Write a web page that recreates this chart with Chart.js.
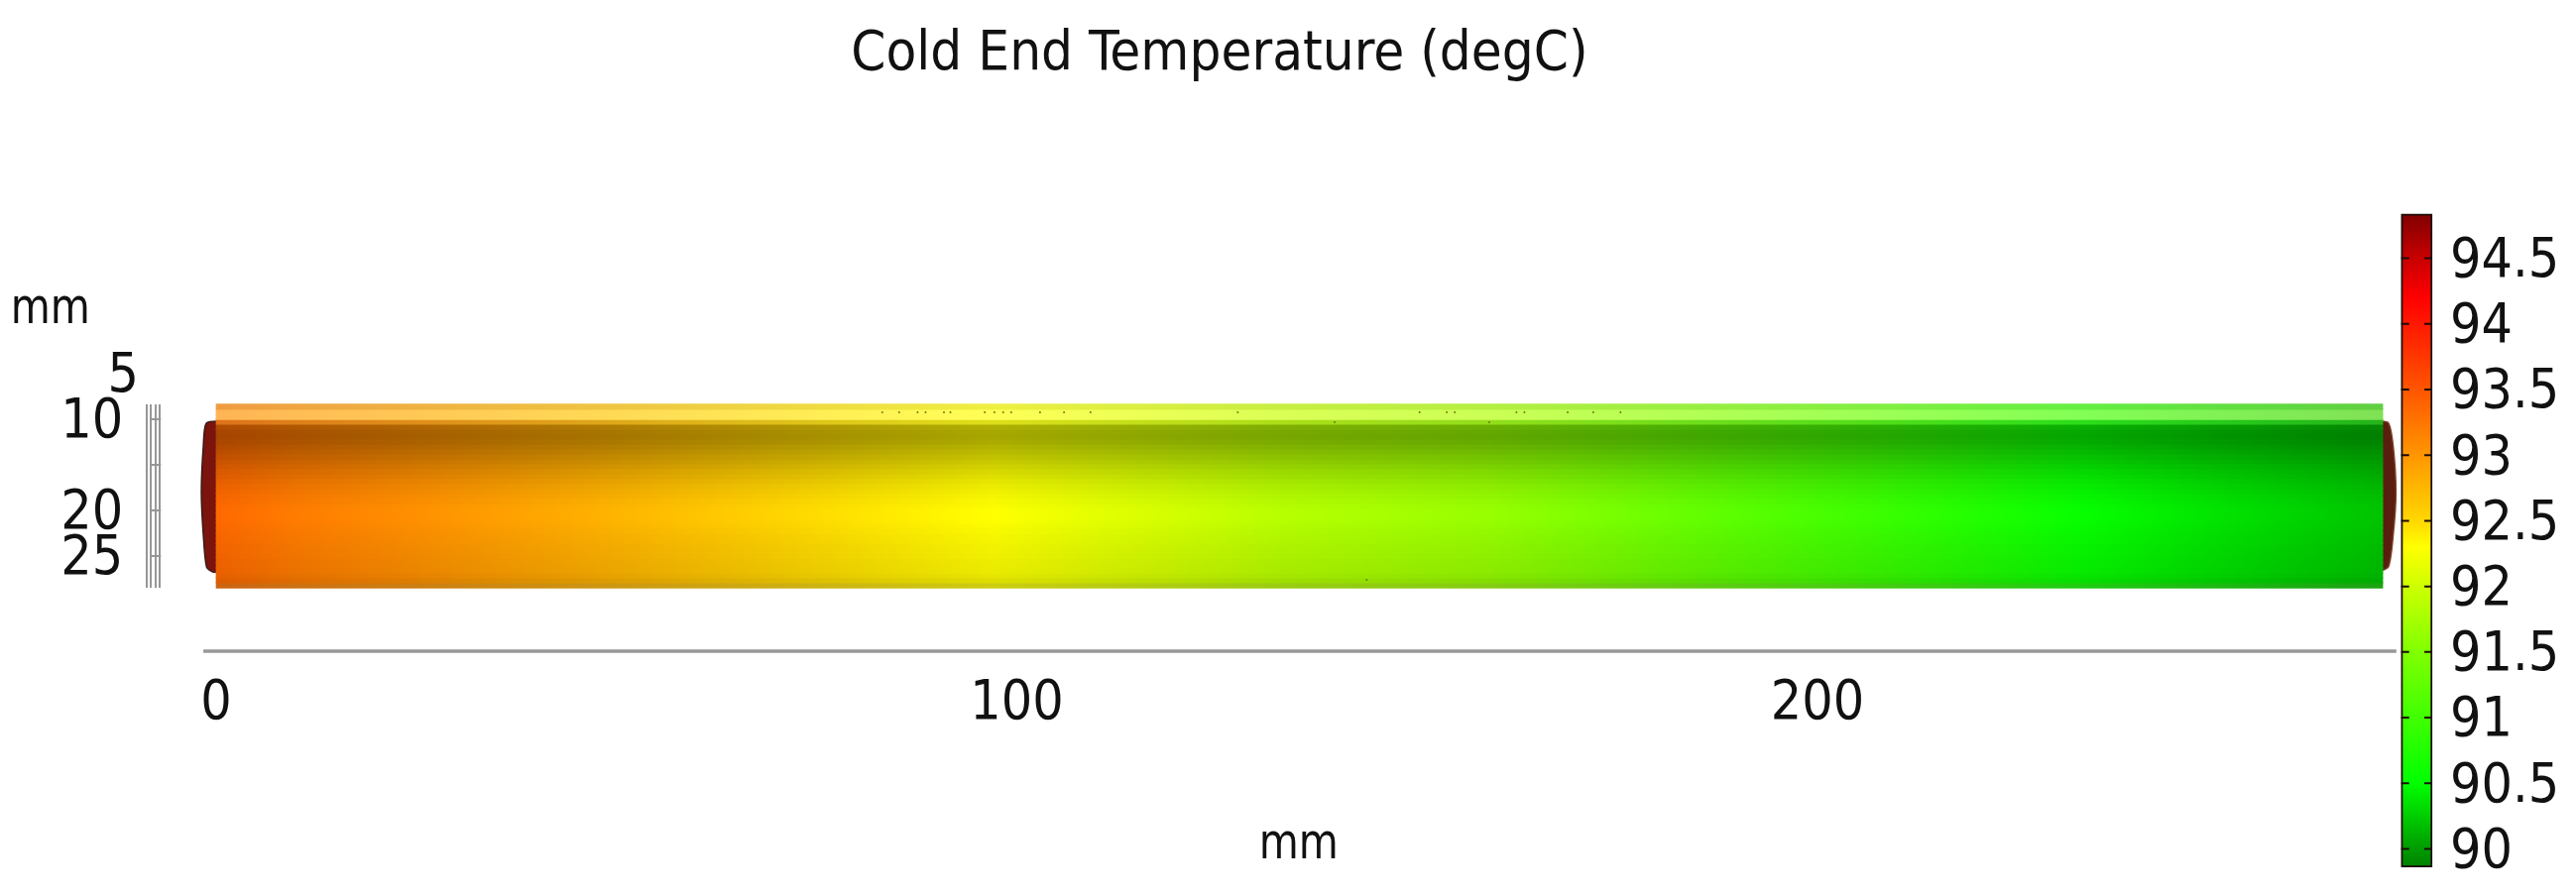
<!DOCTYPE html>
<html>
<head>
<meta charset="utf-8">
<title>Cold End Temperature</title>
<script src="https://cdn.jsdelivr.net/npm/chart.js@4"></script>
<style>
  body { margin: 0; background: #fff; }
  canvas { display: block; }
</style>
</head>
<body>
<canvas id="coldEnd" width="2598" height="902"></canvas>
<script>
const chartTitle = 'Cold End Temperature (degC)';
const xTicks = [0, 100, 200];
const yTicks = [5, 10, 20, 25];
const tempTicks = [90, 90.5, 91, 91.5, 92, 92.5, 93, 93.5, 94, 94.5];

// colour table of the legend bar
const legendTemps = [89.86, 90.5, 91, 91.5, 92, 92.3, 92.5, 93, 93.5, 94.2, 94.5, 94.84];
const legendColors = [[0,128,0],[0,255,0],[64,255,0],[128,255,0],[205,255,0],[255,255,0],
  [255,215,0],[255,150,0],[255,85,0],[255,0,0],[200,0,0],[128,0,0]];

// surface temperature along the tube
const stationsMm = [0, 10, 29, 47, 72, 97, 109, 134, 159, 183.5, 208, 233, 258, 270.6];
const stationTemps = [93.35, 93.2, 93, 92.8, 92.5, 92.3, 92.15, 91.85, 91.65, 91.3, 90.95, 90.55, 90.3, 90.2];

// strips across the tube, with the lighting seen on each
const rowMm = [8.64,9.18,9.73,10.27,10.82,11.36,11.9,12.45,12.99,13.53,14.08,14.62,15.16,15.71,16.25,16.79,17.34,17.88,18.42,
  18.97,19.51,20.05,20.6,21.14,21.68,22.23,22.77,23.32,23.86,24.4,24.95,25.49,26.03,26.58,27.12,27.66,28.21];
const rowShade = [.9,1,1,.85,.68,.66,.65,.67,.7,.73,.76,.79,.82,.85,.875,.9,.925,.945,.96,
  .975,.99,1,1,.995,.985,.975,.965,.96,.95,.945,.94,.93,.925,.92,.9,.87,.78];
const rowSpecular = [.38,.5,.5,.15,.02,0,0,0,0,0,0,0,0,0,0,0,0,0,0,
  0,0,0,0,0,0,0,0,0,0,0,0,0,0,0,0,0,.1];
const specularTint = [255, 255, 170];

// end caps
const capLeftX = [1,-1.2,-1.6,-1.85,-1.6,-1.2,-0.45,1];
const capRightX = [270,271.3,271.9,272.25,271.9,271.3,270];
const capLeftY = [10.2,10.4,12.93,18.04,22.72,26.2,26.74,26.74];
const capRightY = [10.2,10.4,12.93,18.04,22.72,26.2,26.74];

// small mesh specks
const specksX = [83.2,85.3,87.6,88.6,90.9,91.7,96,97.2,98.3,99.3,102.9,105.9,109.2,127.6,150.3,153.7,154.7,162.4,163.4,168.8,172,175.4,139.7,159,143.7];
const specksY = [9.24,9.24,9.24,9.24,9.24,9.24,9.24,9.24,9.24,9.24,9.24,9.24,9.24,9.24,9.24,9.24,9.24,9.24,9.24,9.24,9.24,9.24,10.33,10.33,27.6];

// edge-on frame left of the tube
const frameX = [-8.67, -8.17, -7.55, -7.06];
const frameTicks = [10, 15, 20, 25];
const tubeTop = 8.37, tubeBottom = 28.48, tubeEnd = 270.6;

function tempColor(t) {
  let i = 0;
  while (i < legendTemps.length - 2 && t > legendTemps[i + 1]) i++;
  const k = Math.min(1, Math.max(0, (t - legendTemps[i]) / (legendTemps[i + 1] - legendTemps[i])));
  return legendColors[i].map((c, n) => c + (legendColors[i + 1][n] - c) * k);
}

function rowGradient(row) {
  return function (ctx) {
    const x = ctx.chart.scales.x;
    const x0 = x.getPixelForValue(0), x1 = x.getPixelForValue(tubeEnd);
    if (!isFinite(x0) || !isFinite(x1)) return '#888'; // scales not laid out yet
    const g = ctx.chart.ctx.createLinearGradient(x0, 0, x1, 0);
    stationsMm.forEach((mm, i) => {
      const c = tempColor(stationTemps[i]).map((v, n) => {
        const lit = v * rowShade[row];
        return Math.round(lit + (specularTint[n] - lit) * rowSpecular[row]);
      });
      g.addColorStop(mm / tubeEnd, `rgb(${c[0]},${c[1]},${c[2]})`);
    });
    return g;
  };
}

function legendGradient(ctx) {
  const s = ctx.chart.scales.yTemp;
  const top = s.getPixelForValue(94.84), bottom = s.getPixelForValue(89.86);
  if (!isFinite(top) || !isFinite(bottom)) return '#888';
  const g = ctx.chart.ctx.createLinearGradient(0, bottom, 0, top);
  legendTemps.forEach((t, i) => {
    const c = legendColors[i];
    g.addColorStop((s.getPixelForValue(t) - bottom) / (top - bottom), `rgb(${c[0]},${c[1]},${c[2]})`);
  });
  return g;
}

function line(data, color, width, extra) {
  return Object.assign({ type: 'scatter', data: data, showLine: true, borderColor: color, borderWidth: width,
    pointRadius: 0, spanGaps: false, order: 1 }, extra || {});
}

const datasets = [];

// tube strips
rowMm.forEach((y, i) => {
  datasets.push({ type: 'bar', label: 'tube ' + y, data: [{ x: [0, tubeEnd], y: y }], barThickness: 5.6,
    backgroundColor: rowGradient(i), order: 3 });
});

// legend bar
datasets.push({ type: 'bar', label: 'legend', yAxisID: 'yTemp', data: [{ x: [272.9, 276.78], y: 92.35 }], barThickness: 659,
  backgroundColor: legendGradient, borderColor: '#1c0c08', borderWidth: 2, borderSkipped: false, clip: false, order: 3 });

// legend tick marks
const legendMarks = [];
tempTicks.forEach(t => {
  legendMarks.push({ x: 272.9, y: t }, { x: 273.9, y: t }, { x: null, y: null });
  legendMarks.push({ x: 275.8, y: t }, { x: 276.78, y: t }, { x: null, y: null });
});
datasets.push(line(legendMarks, '#1c0c08', 2, { yAxisID: 'yTemp' }));

// end caps
datasets.push(line(capLeftX.map((x, i) => ({ x: x, y: capLeftY[i] })), '#3a1a1a', 1.5,
  { fill: 'shape', backgroundColor: '#7a140c', tension: 0.25, order: 5 }));
datasets.push(line(capRightX.map((x, i) => ({ x: x, y: capRightY[i] })), '#7a3a24', 1.5,
  { fill: 'shape', backgroundColor: '#5a1e10', tension: 0.25, order: 5 }));

// edge-on views
const frameMarks = [];
frameX.forEach(x => frameMarks.push({ x: x, y: tubeTop }, { x: x, y: tubeBottom }, { x: null, y: null }));
frameTicks.forEach(y => frameMarks.push({ x: -8.2, y: y }, { x: -6.9, y: y }, { x: null, y: null }));
datasets.push(line(frameMarks, '#969696', 2));
datasets.push(line([{ x: -1.6, y: 35.43 }, { x: 272.3, y: 35.43 }], '#989898', 3.5));

datasets.push({ type: 'scatter', label: 'specks', data: specksX.map((x, i) => ({ x: x, y: specksY[i] })),
  pointRadius: 1, backgroundColor: '#6e7a10', borderWidth: 0, order: 1 });

const axisFont = { family: '"DejaVu Sans Condensed", "DejaVu Sans"', size: 55 };

const extraLabels = {
  id: 'extraLabels',
  afterLayout(chart) {
    // the title sits left of the page centre
    chart.titleBlock.right = 2460;
  },
  afterDraw(chart) {
    const ctx = chart.ctx;
    const put = (px, py) => {
      ctx.save();
      ctx.translate(px, py);
      ctx.scale(0.84, 1);
      ctx.font = '49px "DejaVu Sans"';
      ctx.fillStyle = '#111';
      ctx.textAlign = 'center';
      ctx.textBaseline = 'middle';
      ctx.fillText('mm', 0, 0);
      ctx.restore();
    };
    put(chart.scales.x.getPixelForValue(135.2), chart.scales.y.getPixelForValue(56.75));
    put(chart.scales.x.getPixelForValue(-20.7), chart.scales.y.getPixelForValue(-1.9));
  }
};

function noLabelMargin(s, width) {
  s.width = width;
  s.paddingTop = 0;
  s.paddingBottom = 0;
}

new Chart(document.getElementById('coldEnd'), {
  type: 'bar',
  data: { datasets: datasets },
  plugins: [extraLabels],
  options: {
    responsive: false,
    animation: false,
    events: [],
    layout: { padding: { left: 0, right: 0, top: 0, bottom: 27 } },
    datasets: { bar: { indexAxis: 'y', grouped: false } },
    plugins: {
      legend: { display: false },
      tooltip: { enabled: false },
      title: {
        display: true,
        text: chartTitle,
        color: '#111',
        font: { family: axisFont.family, size: 56, weight: 'normal', lineHeight: 1.2 },
        padding: { top: 22, bottom: 126.4 }
      }
    },
    scales: {
      x: {
        type: 'linear',
        position: { y: 35.43 },
        min: -9.66,
        max: 277.03,
        grid: { display: false },
        border: { display: false },
        afterBuildTicks: s => { s.ticks = xTicks.map(v => ({ value: v })); },
        ticks: { color: '#111', font: axisFont, padding: 13, maxRotation: 0, autoSkip: false }
      },
      y: {
        type: 'linear',
        position: 'left',
        reverse: true,
        offset: false,
        min: -12.54,
        max: 59.13,
        grid: { display: false },
        border: { display: false },
        afterBuildTicks: s => { s.ticks = yTicks.map(v => ({ value: v })); },
        afterFit: s => noLabelMargin(s, 140),
        ticks: { color: '#111', font: axisFont, padding: -8, labelOffset: 4, autoSkip: false,
          callback: v => (v === 5 ? '5' : v + ' ') }
      },
      yTemp: {
        type: 'linear',
        axis: 'y',
        position: 'right',
        offset: false,
        min: 89.86,
        max: 94.84,
        grid: { display: false },
        border: { display: false },
        afterBuildTicks: s => { s.ticks = tempTicks.map(v => ({ value: v })); },
        afterFit: s => noLabelMargin(s, 143),
        ticks: { color: '#111', font: axisFont, padding: 8, labelOffset: 4, autoSkip: false, callback: v => String(v) }
      }
    }
  }
});
</script>
</body>
</html>
